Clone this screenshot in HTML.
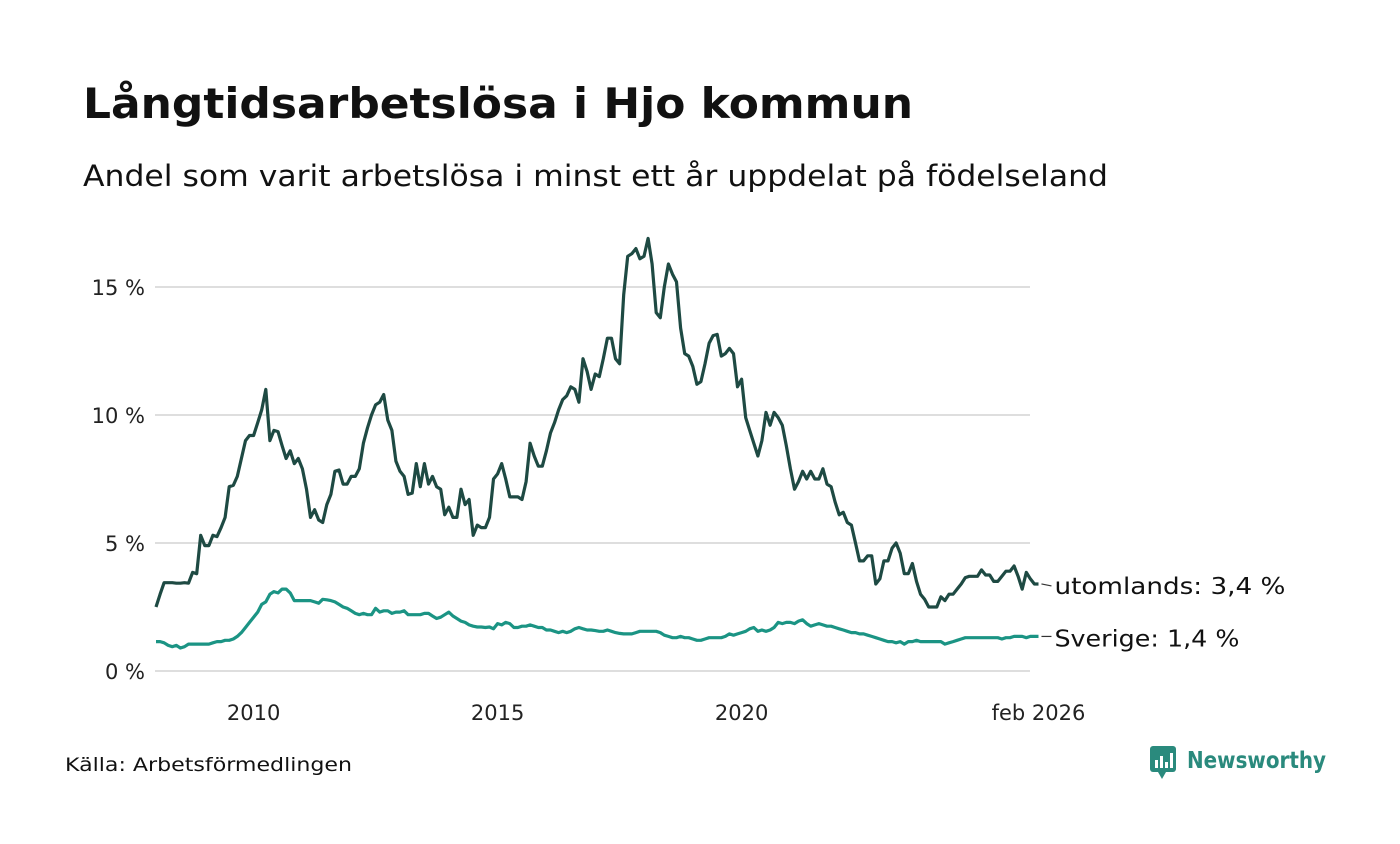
<!DOCTYPE html>
<html><head><meta charset="utf-8">
<style>
body{margin:0;background:#fff;width:1400px;height:840px;overflow:hidden;font-family:"DejaVu Sans","Liberation Sans",sans-serif;}
</style></head>
<body>
<svg id="chart" width="1400" height="840" xmlns="http://www.w3.org/2000/svg">
<text x="83" y="118" font-size="42" font-weight="bold" fill="#111" textLength="830" lengthAdjust="spacingAndGlyphs">Långtidsarbetslösa i Hjo kommun</text>
<text x="83" y="186" font-size="29" fill="#111" textLength="1025" lengthAdjust="spacingAndGlyphs">Andel som varit arbetslösa i minst ett år uppdelat på födelseland</text>
<g id="grid"></g><g id="series"></g>
<text x="65" y="771" font-size="19" fill="#111" textLength="287" lengthAdjust="spacingAndGlyphs">Källa: Arbetsförmedlingen</text>
<g>
<rect x="1150" y="746" width="26" height="26" rx="3" fill="#2a8a7d"/>
<polygon points="1158,772 1166,772 1162,779" fill="#2a8a7d"/>
<rect x="1155" y="760" width="3" height="8" fill="#fff"/><rect x="1160" y="756" width="3" height="12" fill="#fff"/><rect x="1165" y="762" width="3" height="6" fill="#fff"/><rect x="1170" y="753" width="3" height="15" fill="#fff"/>
<text x="1187" y="768" font-size="23" font-weight="bold" fill="#2a8a7d" textLength="139" lengthAdjust="spacingAndGlyphs">Newsworthy</text>
</g>
</svg>
<script>
const yTicks=[0,5,10,15];
const xTickYears=[2010,2015,2020];
const utomlands=[2.5,3.0,3.45,3.45,3.45,3.43,3.43,3.45,3.43,3.85,3.8,5.3,
4.9,4.9,5.3,5.25,5.6,6.0,7.2,7.25,7.6,8.3,9.0,9.2,
9.2,9.7,10.2,11.0,9.0,9.4,9.35,8.8,8.3,8.6,8.1,8.3,
7.9,7.1,6.0,6.3,5.9,5.8,6.5,6.9,7.8,7.85,7.3,7.3,
7.6,7.6,7.9,8.9,9.5,10.0,10.4,10.5,10.8,9.8,9.4,8.2,
7.8,7.6,6.9,6.95,8.1,7.2,8.1,7.3,7.6,7.2,7.1,6.1,
6.4,6.0,6.0,7.1,6.5,6.7,5.3,5.7,5.6,5.6,6.0,7.5,
7.7,8.1,7.5,6.8,6.8,6.8,6.7,7.4,8.9,8.4,8.0,8.0,
8.6,9.3,9.7,10.2,10.6,10.75,11.1,11.0,10.5,12.2,11.7,11.0,
11.6,11.5,12.2,13.0,13.0,12.2,12.0,14.7,16.2,16.3,16.5,16.1,
16.2,16.9,15.9,14.0,13.8,15.0,15.9,15.5,15.2,13.4,12.4,12.3,
11.9,11.2,11.3,12.0,12.8,13.1,13.15,12.3,12.4,12.6,12.4,11.1,
11.4,9.9,9.4,8.9,8.4,9.0,10.1,9.6,10.1,9.9,9.6,8.8,
7.9,7.1,7.4,7.8,7.5,7.8,7.5,7.5,7.9,7.3,7.2,6.6,
6.1,6.2,5.8,5.7,5.0,4.3,4.3,4.5,4.5,3.4,3.6,4.3,
4.3,4.8,5.0,4.6,3.8,3.8,4.2,3.5,3.0,2.8,2.5,2.5,
2.5,2.9,2.75,3.0,3.0,3.2,3.4,3.65,3.7,3.7,3.7,3.95,
3.75,3.75,3.5,3.5,3.7,3.9,3.9,4.1,3.7,3.2,3.85,3.6,
3.4,3.4];
const sverige=[1.15,1.15,1.1,1.0,0.95,1.0,0.9,0.95,1.05,1.05,1.05,1.05,
1.05,1.05,1.1,1.15,1.15,1.2,1.2,1.25,1.35,1.5,1.7,1.9,
2.1,2.3,2.6,2.7,3.0,3.1,3.05,3.2,3.2,3.05,2.75,2.75,
2.75,2.75,2.75,2.7,2.65,2.8,2.78,2.75,2.7,2.6,2.5,2.45,
2.35,2.25,2.2,2.25,2.2,2.2,2.45,2.3,2.35,2.35,2.25,2.3,
2.3,2.35,2.2,2.2,2.2,2.2,2.25,2.25,2.15,2.05,2.1,2.2,
2.3,2.15,2.05,1.95,1.9,1.8,1.75,1.72,1.72,1.7,1.72,1.65,
1.85,1.8,1.9,1.85,1.7,1.7,1.75,1.75,1.8,1.75,1.7,1.7,
1.6,1.6,1.55,1.5,1.55,1.5,1.55,1.65,1.7,1.65,1.6,1.6,
1.58,1.55,1.55,1.6,1.55,1.5,1.47,1.45,1.45,1.45,1.5,1.55,
1.55,1.55,1.55,1.55,1.5,1.4,1.35,1.3,1.3,1.35,1.3,1.3,
1.25,1.2,1.2,1.25,1.3,1.3,1.3,1.3,1.35,1.45,1.4,1.45,
1.5,1.55,1.65,1.7,1.55,1.6,1.55,1.6,1.7,1.9,1.85,1.9,
1.9,1.85,1.95,2.0,1.85,1.75,1.8,1.85,1.8,1.75,1.75,1.7,
1.65,1.6,1.55,1.5,1.5,1.45,1.45,1.4,1.35,1.3,1.25,1.2,
1.15,1.15,1.1,1.15,1.05,1.15,1.15,1.2,1.15,1.15,1.15,1.15,
1.15,1.15,1.05,1.1,1.15,1.2,1.25,1.3,1.3,1.3,1.3,1.3,
1.3,1.3,1.3,1.3,1.25,1.3,1.3,1.35,1.35,1.35,1.3,1.35,
1.35,1.35];
const seriesNames=["utomlands","Sverige"];
const NS="http://www.w3.org/2000/svg";
function yS(v){return 671-v*25.6;}
function xS(i){return 156+i*(48.8/12);}
function xYear(y){return xS((y-2008)*12);}
function mk(tag,attrs,parent){const e=document.createElementNS(NS,tag);for(const k in attrs)e.setAttribute(k,attrs[k]);parent.appendChild(e);return e;}
const grid=document.getElementById('grid');
yTicks.forEach(t=>{
  const l=mk('line',{x1:155,x2:1030,y1:yS(t),y2:yS(t),stroke:'#dedede','stroke-width':2},grid);
  
  
  const tx=mk('text',{x:145,y:yS(t)+8,'text-anchor':'end','font-size':21,fill:'#222'},grid);
  tx.textContent=t+' %';
  
  
});
xTickYears.forEach(y=>{
  const tx=mk('text',{x:xYear(y),y:720,'text-anchor':'middle','font-size':21,fill:'#222'},grid);
  tx.textContent=y;
  
  
});
const lastI=utomlands.length-1;
const tl=mk('text',{x:xS(lastI),y:720,'text-anchor':'middle','font-size':21,fill:'#222'},grid);
tl.textContent='feb 2026';


const sg=document.getElementById('series');
const labelLens=[231,185];
[[utomlands,'#1e4a43','utomlands'],[sverige,'#1b9484','sverige']].forEach(([d,c,n],k)=>{
  const p=mk('path',{d:d.map((v,i)=>(i?'L':'M')+xS(i).toFixed(1)+','+yS(v).toFixed(1)).join(''),fill:'none',stroke:c,'stroke-width':3.2,'stroke-linejoin':'round'},sg);
  
  
  const last=d[d.length-1], ly=yS(last);
  const x0=xS(d.length-1);
  mk('line',{x1:x0+3,x2:x0+13,y1:ly,y2:ly+(k?0:2),stroke:'#333','stroke-width':1.2},sg);
  const lab=mk('text',{x:x0+16,y:ly+10,'font-size':23,fill:'#111',textLength:labelLens[k],lengthAdjust:'spacingAndGlyphs'},sg);
  lab.textContent=seriesNames[k]+': '+last.toFixed(1).replace('.',',')+' %';
  
  
});
</script>
</body></html>
